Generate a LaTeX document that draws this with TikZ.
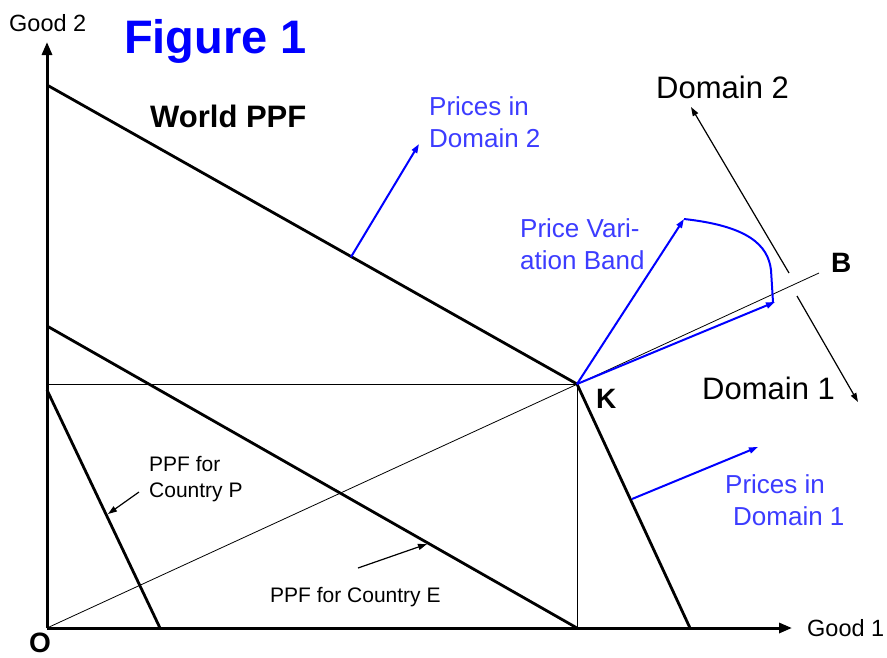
\documentclass[tikz,border=0pt]{standalone}
\usepackage{fontspec}
\setmainfont{Liberation Sans}
\usetikzlibrary{arrows.meta}
\definecolor{lblue}{RGB}{60,60,255}
\definecolor{pblue}{RGB}{0,0,255}
\begin{document}
\begin{tikzpicture}[x=1pt,y=-1pt,
  thickln/.style={line width=2.8pt},
  thinln/.style={line width=0.8pt},
  axis/.style={line width=3pt,-{Triangle[length=13pt,width=10pt]}},
  bluearr/.style={pblue,line width=2pt,-{Triangle[length=9pt,width=6pt]}},
  blackarr/.style={black,line width=1.2pt,-{Triangle[length=9pt,width=6pt]}},
  lbl/.style={inner sep=0pt,font=\fontsize{21}{26}\selectfont},
  axlbl/.style={inner sep=0pt,font=\fontsize{23.5}{28}\selectfont},
  bluelbl/.style={inner sep=0pt,text=lblue,align=left,font=\fontsize{26}{32}\selectfont},
  bigblk/.style={inner sep=0pt,font=\fontsize{31}{36}\selectfont},
  boldlbl/.style={inner sep=0pt,font=\bfseries\fontsize{28}{34}\selectfont}]
\useasboundingbox (0,0) rectangle (887,657);
% key points
\coordinate (O) at (47,628);
\coordinate (Ytop) at (47,42);
\coordinate (Xend) at (792,628);
\coordinate (W0) at (47,85);
\coordinate (K) at (577,384);
\coordinate (W1) at (690,628);
\coordinate (E0) at (47,326);
\coordinate (E1) at (577,628);
\coordinate (P0) at (47,390);
\coordinate (P1) at (160,628);
\coordinate (KL) at (47,384);
\coordinate (KB) at (577,628);
\coordinate (Bend) at (819,273);
% thin guides
\draw[thinln] (KL) -- (K) -- (KB);
\draw[thinln] (O) -- (Bend);
% PPFs
\draw[thickln] (W0) -- (K) -- (W1);
\draw[thickln] (E0) -- (E1);
\draw[thickln] (P0) -- (P1);
% axes
\draw[axis] (O) -- (Ytop);
\draw[axis] (O) -- (Xend);
% blue arrows
\coordinate (A1s) at (351,257);
\coordinate (A1e) at (419,144);
\draw[bluearr] (A1s) -- (A1e);
\coordinate (A2s) at (632,499);
\coordinate (A2e) at (758,447);
\draw[bluearr] (A2s) -- (A2e);
\coordinate (Bup) at (684,219);
\coordinate (Blo) at (775,302);
\draw[bluearr] (K) -- (Bup);
\draw[bluearr] (K) -- (Blo);
\draw[pblue,line width=2pt] (Bup) .. controls (748,226) and (768,245) .. (771,270) -- (773,302);
% domain arrows
\coordinate (D2s) at (789,273);
\coordinate (D2e) at (691,107);
\coordinate (D1s) at (797,296);
\coordinate (D1e) at (858,402);
\draw[blackarr] (D2s) -- (D2e);
\draw[blackarr] (D1s) -- (D1e);
% label pointers
\coordinate (Ps) at (139,492);
\coordinate (Pe) at (108,514);
\draw[blackarr] (Ps) -- (Pe);
\coordinate (Es) at (358,568);
\coordinate (Ee) at (427,544);
\draw[blackarr] (Es) -- (Ee);
% texts
\node[inner sep=0pt,text=pblue,font=\bfseries\fontsize{47}{52}\selectfont,anchor=base west] (fig) at (124,53) {Figure 1};
\node[axlbl,anchor=base west] (g2) at (9,31) {Good 2};
\node[axlbl,anchor=base west] (g1) at (807,636) {Good 1};
\node[inner sep=0pt,font=\bfseries\fontsize{31}{36}\selectfont,anchor=base west] (wppf) at (150,127) {World PPF};
\node[bluelbl,anchor=north west] (pd2) at (429,96) {Prices in\\Domain 2};
\node[bluelbl,anchor=north west] (pvb) at (520,218) {Price Vari-\\ation Band};
\node[bluelbl,anchor=north west] (pd1) at (733,474) {\hspace*{-8pt}Prices in\\Domain 1};
\node[bigblk,anchor=base west] (d2) at (656,98) {Domain 2};
\node[bigblk,anchor=base west] (d1) at (702,399) {Domain 1};
\node[boldlbl,anchor=base west] (kl) at (596,408) {K};
\node[boldlbl,anchor=base west] (bl) at (831,272) {B};
\node[boldlbl,anchor=base] (ol) at (40,652) {O};
\node[lbl,align=left,anchor=north west] (ppfp) at (149,456) {PPF for\\Country P};
\node[lbl,anchor=base west] (ppfe) at (270,602) {PPF for Country E};
\end{tikzpicture}
\end{document}
